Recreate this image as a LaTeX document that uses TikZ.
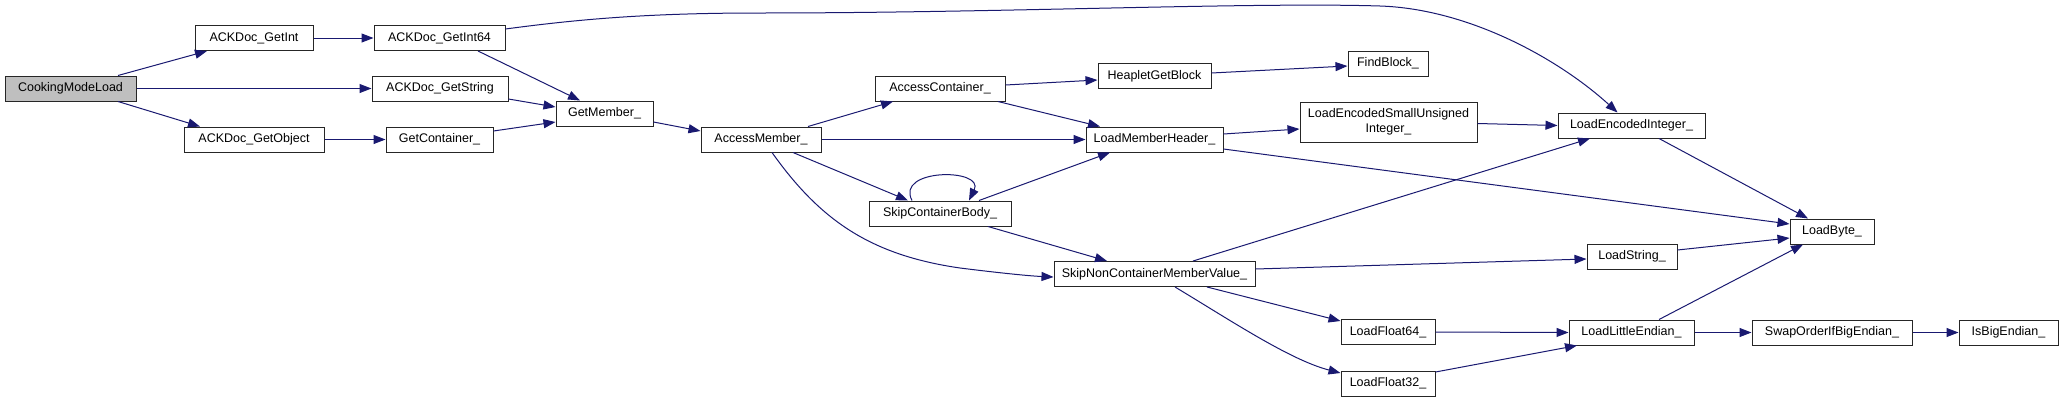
\documentclass[tikz,border=0pt]{standalone}
\usepackage{fontspec}
\setmainfont{Liberation Sans}
\usetikzlibrary{arrows.meta}
\definecolor{edgeblue}{HTML}{191970}
\definecolor{rootgray}{HTML}{BFBFBF}
\tikzset{
  fn/.style={draw=black!85, fill=white, line width=1pt, inner sep=0pt, minimum height=25pt,
    font=\fontsize{12.5}{15}\selectfont, align=center},
  rootfn/.style={fn, fill=rootgray},
  call/.style={draw=edgeblue, line width=1pt, -{Triangle[length=12pt,width=9pt]}, color=edgeblue},
}
\begin{document}
\begin{tikzpicture}[x=1pt,y=1pt]
\useasboundingbox (0,0) rectangle (2068,-402);
% nodes
\node[rootfn, minimum width=131pt] (cml) at (70.5,-88.5) {CookingModeLoad};
\node[fn, minimum width=118pt] (getint) at (254,-38) {ACKDoc\_GetInt};
\node[fn, minimum width=131pt] (getint64) at (439.5,-38) {ACKDoc\_GetInt64};
\node[fn, minimum width=136pt] (getstring) at (440,-88.5) {ACKDoc\_GetString};
\node[fn, minimum width=140pt] (getobject) at (254,-139.5) {ACKDoc\_GetObject};
\node[fn, minimum width=107pt] (getcontainer) at (439.5,-139.5) {GetContainer\_};
\node[fn, minimum width=97pt] (getmember) at (604.5,-113.5) {GetMember\_};
\node[fn, minimum width=120pt] (accessmember) at (761,-139.5) {AccessMember\_};
\node[fn, minimum width=130pt] (accesscontainer) at (940,-88.5) {AccessContainer\_};
\node[fn, minimum width=142pt] (skipbody) at (940,-213.5) {SkipContainerBody\_};
\node[fn, minimum width=113pt] (heaplet) at (1154.5,-76) {HeapletGetBlock};
\node[fn, minimum width=80pt] (findblock) at (1388,-63.5) {FindBlock\_};
\node[fn, minimum width=137pt] (lmh) at (1154.5,-139.5) {LoadMemberHeader\_};
\node[fn, minimum width=177pt, minimum height=40pt] (lesui) at (1388.5,-122) {LoadEncodedSmallUnsigned\\Integer\_};
\node[fn, minimum width=201pt] (skipnon) at (1154.5,-274) {SkipNonContainerMemberValue\_};
\node[fn, minimum width=94pt] (float64) at (1388,-332) {LoadFloat64\_};
\node[fn, minimum width=94pt] (float32) at (1388,-383.5) {LoadFloat32\_};
\node[fn, minimum width=147pt] (lei) at (1631.5,-125.5) {LoadEncodedInteger\_};
\node[fn, minimum width=84pt] (loadbyte) at (1832,-231.5) {LoadByte\_};
\node[fn, minimum width=90pt] (loadstring) at (1632,-256.5) {LoadString\_};
\node[fn, minimum width=125pt] (lle) at (1631.5,-332.5) {LoadLittleEndian\_};
\node[fn, minimum width=160pt] (swap) at (1832,-332.5) {SwapOrderIfBigEndian\_};
\node[fn, minimum width=99pt] (isbig) at (2008.5,-332.5) {IsBigEndian\_};
% edges
\draw[call] ([xshift=47.5pt]cml.north) -- ([xshift=-47pt]getint.south);
\draw[call] (cml.east) -- (getstring.west);
\draw[call] ([xshift=47.5pt]cml.south) -- ([xshift=-54pt]getobject.north);
\draw[call] (getint.east) -- (getint64.west);
\draw[call] ([xshift=38.5pt]getint64.south) -- ([xshift=-24.5pt]getmember.north);
\draw[call] ([yshift=9pt]getint64.east) .. controls (580,-19) and (650,-13) .. (760,-13)
  .. controls (1000,-13) and (1250,-2) .. (1380,-6)
  .. controls (1470,-9) and (1560,-60) .. ([xshift=-14pt]lei.north);
\draw[call] ([yshift=-10.5pt]getstring.east) -- ([yshift=6.5pt]getmember.west);
\draw[call] (getobject.east) -- (getcontainer.west);
\draw[call] ([yshift=8.5pt]getcontainer.east) -- ([yshift=-8.5pt]getmember.west);
\draw[call] ([yshift=-8.5pt]getmember.east) -- ([yshift=8.5pt]accessmember.west);
\draw[call] ([xshift=47pt]accessmember.north) -- ([xshift=-47pt]accesscontainer.south);
\draw[call] (accessmember.east) -- (lmh.west);
\draw[call] ([xshift=32pt]accessmember.south) -- ([xshift=-32pt]skipbody.north);
\draw[call] ([xshift=11pt]accessmember.south) .. controls (820,-220) and (870,-255) .. (960,-268)
  .. controls (1000,-273) and (1030,-276) .. ([yshift=-3pt]skipnon.west);
\draw[call] ([yshift=3.5pt]accesscontainer.east) -- ([yshift=-4pt]heaplet.west);
\draw[call] ([xshift=58pt]accesscontainer.south) -- ([xshift=-54.5pt]lmh.north);
\draw[call] ([yshift=3pt]heaplet.east) -- ([yshift=-2.5pt]findblock.west);
\draw[call] ([xshift=-28pt]skipbody.north) .. controls (895,-168) and (985,-168) .. ([xshift=29pt]skipbody.north);
\draw[call] ([xshift=39pt]skipbody.north) -- ([xshift=-44.5pt]lmh.south);
\draw[call] ([xshift=48pt]skipbody.south) -- ([xshift=-47.5pt]skipnon.north);
\draw[call] ([yshift=5.5pt]lmh.east) -- ([yshift=-7pt]lesui.west);
\draw[call] ([yshift=-9.5pt]lmh.east) -- ([yshift=7.5pt]loadbyte.west);
\draw[call] ([yshift=-1.5pt]lesui.east) -- (lei.west);
\draw[call] ([xshift=38.5pt]skipnon.north) -- ([xshift=-41.5pt]lei.south);
\draw[call] ([yshift=5pt]skipnon.east) -- ([yshift=-2.5pt]loadstring.west);
\draw[call] ([xshift=52.5pt]skipnon.south) -- ([yshift=11pt]float64.west);
\draw[call] ([xshift=20.5pt]skipnon.south) .. controls (1230,-320) and (1290,-360) .. ([yshift=10.5pt]float32.west);
\draw[call] ([xshift=27.5pt]lei.south) -- ([xshift=-24pt]loadbyte.north);
\draw[call] ([yshift=6.5pt]loadstring.east) -- ([yshift=-6.5pt]loadbyte.west);
\draw[call] (float64.east) -- (lle.west);
\draw[call] ([yshift=11.5pt]float32.east) -- ([xshift=-54.5pt]lle.south);
\draw[call] ([xshift=27.5pt]lle.north) -- ([xshift=-29pt]loadbyte.south);
\draw[call] (lle.east) -- (swap.west);
\draw[call] (swap.east) -- (isbig.west);
\end{tikzpicture}
\end{document}
